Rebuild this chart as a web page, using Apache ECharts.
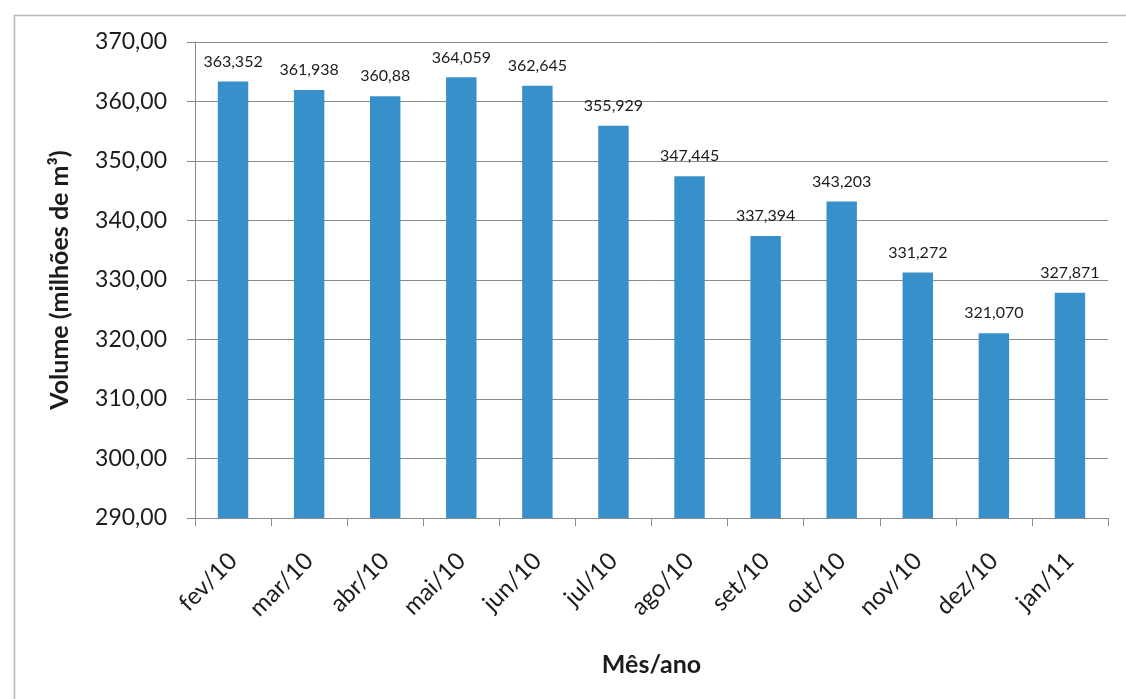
<!DOCTYPE html>
<html>
<head>
<meta charset="utf-8">
<script src="https://cdn.jsdelivr.net/npm/echarts@6/dist/echarts.min.js"></script>
<style>
  html, body { margin: 0; padding: 0; background: #ffffff; }
  #chart { width: 1126px; height: 699px; }
</style>
</head>
<body>
<div id="chart"></div>
<script>
// Monthly volume, Feb/2010 to Jan/2011
const months = ['fev/10', 'mar/10', 'abr/10', 'mai/10', 'jun/10', 'jul/10',
                'ago/10', 'set/10', 'out/10', 'nov/10', 'dez/10', 'jan/11'];
// Value labels as printed (Brazilian decimal comma)
const volumeLabels = ['363,352', '361,938', '360,88', '364,059', '362,645', '355,929',
                      '347,445', '337,394', '343,203', '331,272', '321,070', '327,871'];
// Numeric values derived from the printed labels
const volumes = volumeLabels.map(s => parseFloat(s.replace(',', '.')));
const yMin = 290, yMax = 370, yStep = 10;

const FONT = 'Lato, "Open Sans", "Liberation Sans", sans-serif';
const TEXT = '#1c1c1c';
const LINE = '#8a8a8a';

const chart = echarts.init(document.getElementById('chart'), null, { renderer: 'canvas' });

chart.setOption({
  backgroundColor: '#ffffff',
  animation: false,
  textStyle: { fontFamily: FONT },
  graphic: [{
    type: 'rect',
    left: 12, top: 13,
    shape: { width: 1200, height: 800 },
    style: { fill: 'none', stroke: '#b8b8b8', lineWidth: 1.5 },
    silent: true
  }],
  grid: { left: 195, right: 18, top: 42, bottom: 181 },
  xAxis: {
    type: 'category',
    data: months,
    boundaryGap: true,
    axisLine: { show: true, lineStyle: { color: LINE, width: 1 } },
    axisTick: { show: true, length: 8, alignWithLabel: false, lineStyle: { color: LINE } },
    axisLabel: { rotate: 45, margin: 39, fontSize: 24, color: TEXT, fontFamily: FONT, interval: 0 },
    name: 'Mês/ano',
    nameLocation: 'middle',
    nameGap: 134,
    nameTextStyle: { fontSize: 25, fontWeight: 'bold', color: TEXT, fontFamily: FONT }
  },
  yAxis: {
    type: 'value',
    min: yMin, max: yMax, interval: yStep,
    axisLine: { show: true, lineStyle: { color: LINE, width: 1 } },
    axisTick: { show: true, inside: false, length: 8, lineStyle: { color: LINE } },
    splitLine: { show: true, lineStyle: { color: LINE, width: 1 } },
    axisLabel: {
      margin: 28, fontSize: 23, color: TEXT, fontFamily: FONT,
      formatter: v => v.toFixed(2).replace('.', ',')
    },
    name: 'Volume (milhões de m³)',
    nameLocation: 'middle',
    nameGap: 123,
    nameRotate: 90,
    nameTextStyle: { fontSize: 25, fontWeight: 'bold', color: TEXT, fontFamily: FONT }
  },
  series: [{
    type: 'bar',
    data: volumes,
    barWidth: '40%',
    itemStyle: { color: '#3790c9' },
    label: {
      show: true,
      position: 'top',
      distance: 12,
      fontSize: 16,
      color: TEXT,
      fontFamily: FONT,
      formatter: p => volumeLabels[p.dataIndex]
    }
  }]
});
</script>
</body>
</html>
